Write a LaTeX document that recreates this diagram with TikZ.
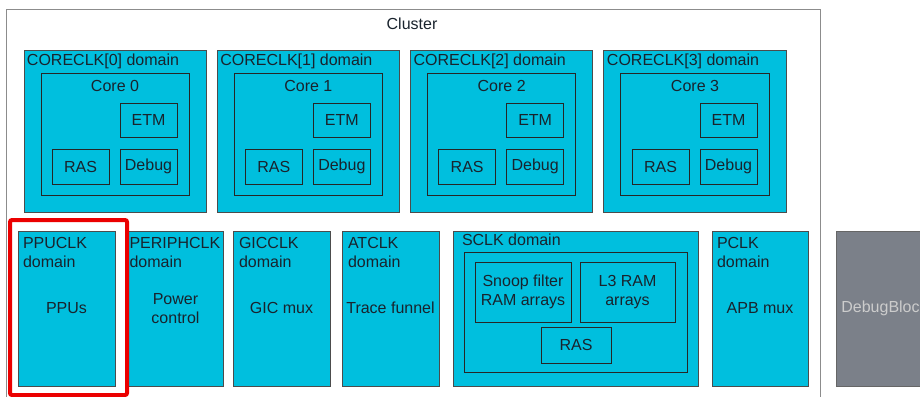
\documentclass[tikz,border=0pt]{standalone}
\usepackage{fontspec}
\setmainfont{Liberation Sans}
\definecolor{cyanfill}{RGB}{0,191,222}
\definecolor{dbgfill}{RGB}{123,128,137}
\definecolor{txt}{RGB}{25,35,45}
\definecolor{hlred}{RGB}{235,0,0}
\newcommand\bx[7]{\node[#6, anchor=north west, minimum width={((#4)-(#2))*1pt}, minimum height={((#5)-(#3))*1pt}] (#1) at (#2,#3) {#7};}
\begin{document}
\begin{tikzpicture}[x=1pt,y=-1pt,
  every node/.style={font=\fontsize{16}{19}\selectfont, text=txt, inner sep=0pt, outer sep=0pt},
  dom/.style={draw=black!70, fill=cyanfill, line width=1pt, rectangle, align=center},
  sub/.style={draw=black!85, line width=1pt, rectangle, align=center},
  cl/.style={draw=black!45, line width=1pt, rectangle},
  dbg/.style={draw=black!60, fill=dbgfill, line width=1pt, rectangle, text=black!20},
  hl/.style={draw=hlred, line width=4pt, rectangle, rounded corners=2pt},
  lbl/.style={anchor=base west},
  mlbl/.style={anchor=north west, align=left},
]
\useasboundingbox (0,0) rectangle (920,396);
\clip (0,0) rectangle (920,396);
% cluster
\bx{cluster}{6}{10}{820}{420}{cl}{}
\node (clt) at (412,24) {Cluster};
% core domains
\foreach \i in {0,...,3}{
  \pgfmathsetmacro\xo{24+193.33*\i}
  \bx{d\i}{\xo}{51}{\xo+182}{212}{dom}{}
  \node[lbl] (dl\i) at (\xo+3,65) {CORECLK[\i] domain};
  \bx{c\i}{\xo+17}{73}{\xo+165}{195}{sub}{}
  \node (ct\i) at (\xo+91,86) {Core \i};
  \bx{e\i}{\xo+96}{103}{\xo+153}{137}{sub}{ETM}
  \bx{r\i}{\xo+28}{149}{\xo+85}{184}{sub}{RAS}
  \bx{g\i}{\xo+96}{149}{\xo+153}{184}{sub}{Debug}
}
% bottom row
\bx{pp}{18}{231}{115}{386}{dom}{}
\node[mlbl] (ppl) at (23,237) {PPUCLK\\domain};
\node (ppt) at (66.5,308) {PPUs};
\bx{pe}{128}{231}{223}{386}{dom}{}
\node[mlbl] (pel) at (129.5,237) {PERIPHCLK\\domain};
\node[align=center] (pet) at (175.5,308.5) {Power\\control};
\bx{gi}{233}{231}{330}{386}{dom}{}
\node[mlbl] (gil) at (239,237) {GICCLK\\domain};
\node (git) at (281.5,308) {GIC mux};
\bx{at}{342}{231}{439}{386}{dom}{}
\node[mlbl] (atl) at (348,237) {ATCLK\\domain};
\node (att) at (390.5,308) {Trace funnel};
\bx{sc}{453}{231}{698}{386}{dom}{}
\node[lbl] (scl) at (462,245) {SCLK domain};
\bx{sci}{464}{252}{687}{372}{sub}{}
\bx{sn}{475}{262}{571}{322}{sub}{Snoop filter\\RAM arrays}
\bx{l3}{580}{262}{675}{322}{sub}{L3 RAM\\arrays}
\bx{sr}{541}{327}{611}{363}{sub}{RAS}
\bx{pc}{712}{231}{808}{386}{dom}{}
\node[mlbl] (pcl) at (717,237) {PCLK\\domain};
\node (pct) at (760,308) {APB mux};
\bx{db}{836}{231}{933}{386}{dbg}{DebugBlock}
% highlight
\bx{hl}{10}{220}{127}{395}{hl}{}
\end{tikzpicture}
\end{document}
